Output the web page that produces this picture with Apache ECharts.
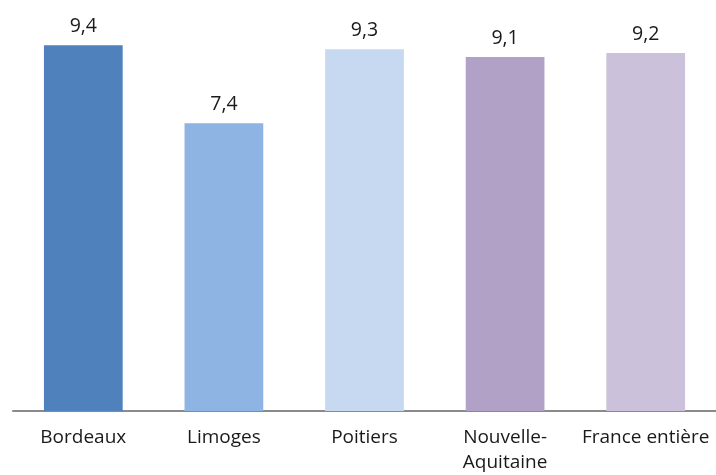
<!DOCTYPE html>
<html><head><meta charset="utf-8">
<script src="https://cdn.jsdelivr.net/npm/echarts@6/dist/echarts.min.js"></script>
<style>html,body{margin:0;padding:0;background:#fff}#c{width:716px;height:475px}</style>
</head><body><div id="c"></div>
<script>
const categories = ['Bordeaux', 'Limoges', 'Poitiers', 'Nouvelle-\nAquitaine', 'France entière'];
const values = [9.4, 7.4, 9.3, 9.1, 9.2];
const colors = ['#4F81BD', '#8EB4E3', '#C6D9F1', '#B2A1C7', '#CCC1DA'];
const chart = echarts.init(document.getElementById('c'));
chart.setOption({
  animation: false,
  grid: {left: 13, right: 0, top: 22, bottom: 62},
  xAxis: {
    type: 'category', data: categories,
    axisLine: {lineStyle: {color: '#8a8a8a', width: 2}},
    axisTick: {show: false},
    axisLabel: {color: '#1a1a1a', fontSize: 19, fontFamily: 'Open Sans', margin: 14, lineHeight: 25, interval: 0}
  },
  yAxis: {type: 'value', min: 0, max: 10, show: false, splitLine: {show: false}},
  series: [{
    type: 'bar', barWidth: '56%',
    data: values.map((v, i) => ({value: v, itemStyle: {color: colors[i]}})),
    label: {show: true, position: 'top', distance: 9, color: '#1a1a1a', fontSize: 19.5, fontFamily: 'Open Sans',
      formatter: p => String(p.value).replace('.', ',')}
  }]
});
</script></body></html>
